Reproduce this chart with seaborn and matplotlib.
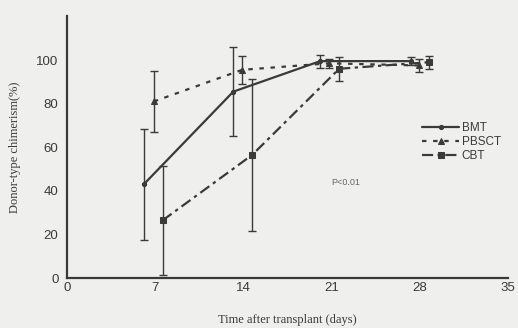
import numpy as np
import pandas as pd
import seaborn as sns
import matplotlib.pyplot as plt

# values (day, mean %, error)
bmt_day = [6.1, 13.2, 20.1, 27.3]
bmt_val = [43, 85.5, 99.5, 99.5]
bmt_err = [25.5, 20.5, 3, 2]

pbsct_day = [6.9, 13.9, 20.8, 27.9]
pbsct_val = [81, 95.5, 98.5, 97.5]
pbsct_err = [14, 6.5, 2, 3]

cbt_day = [7.6, 14.7, 21.6, 28.7]
cbt_val = [26.5, 56.5, 96, 99]
cbt_err = [25, 35, 5.5, 3]

groups = ['BMT', 'PBSCT', 'CBT']

df = pd.concat([
    pd.DataFrame({'day': bmt_day, 'val': bmt_val, 'err': bmt_err, 'group': 'BMT'}),
    pd.DataFrame({'day': pbsct_day, 'val': pbsct_val, 'err': pbsct_err, 'group': 'PBSCT'}),
    pd.DataFrame({'day': cbt_day, 'val': cbt_val, 'err': cbt_err, 'group': 'CBT'}),
])

sns.set_style('white')
plt.rcParams['font.family'] = ['Liberation Sans', 'DejaVu Sans']

ink = '#3a3a3a'
bg = '#efefed'

fig = plt.figure(figsize=(5.18, 3.28), dpi=100, facecolor=bg)
ax = fig.add_axes([0.129, 0.152, 0.852, 0.798], facecolor=bg)

styles = {'BMT': '-', 'PBSCT': (0, (2, 3)), 'CBT': (0, (5, 2, 1.5, 2))}
markers = {'BMT': 'o', 'PBSCT': '^', 'CBT': 's'}
msize = {'BMT': 3, 'PBSCT': 4, 'CBT': 5}

for g in groups:
    sub = df[df.group == g]
    ax.errorbar(sub['day'], sub['val'], yerr=sub['err'], fmt='none',
                ecolor=ink, elinewidth=1.0, capsize=3, capthick=1.0, zorder=2)
    sns.lineplot(data=sub, x='day', y='val', ax=ax, color=ink, linestyle=styles[g],
                 linewidth=1.6, marker=markers[g], markersize=msize[g],
                 markeredgecolor=ink, label=g, estimator=None, sort=False, zorder=3)

ax.set_xlim(0, 35)
ax.set_ylim(0, 120)
ax.set_xticks([0, 7, 14, 21, 28, 35])
ax.set_yticks([0, 20, 40, 60, 80, 100])
ax.tick_params(axis='x', direction='in', length=4, width=1.2, colors=ink, labelsize=9.5, pad=3)
ax.tick_params(axis='y', direction='out', length=4, width=1.2, colors=ink, labelsize=9.5, pad=2)
for s in ['top', 'right']:
    ax.spines[s].set_visible(False)
for s in ['left', 'bottom']:
    ax.spines[s].set_color(ink)
    ax.spines[s].set_linewidth(1.6)

ax.set_xlabel('Time after transplant (days)', family='Liberation Serif', fontsize=9, color=ink, labelpad=14)
ax.set_ylabel('Donor-type chimerism(%)', family='Liberation Serif', fontsize=9, color=ink, labelpad=11)

ax.text(22.1, 44, 'P<0.01', fontsize=6.5, color='#666666', ha='center', va='center')

leg = ax.legend(loc='center left', bbox_to_anchor=(0.78, 0.52), frameon=False,
                fontsize=8.5, handlelength=3.2, handletextpad=0.2, labelspacing=0.2)
for t in leg.get_texts():
    t.set_color(ink)

fig.savefig('out.png', dpi=100, facecolor=bg)
